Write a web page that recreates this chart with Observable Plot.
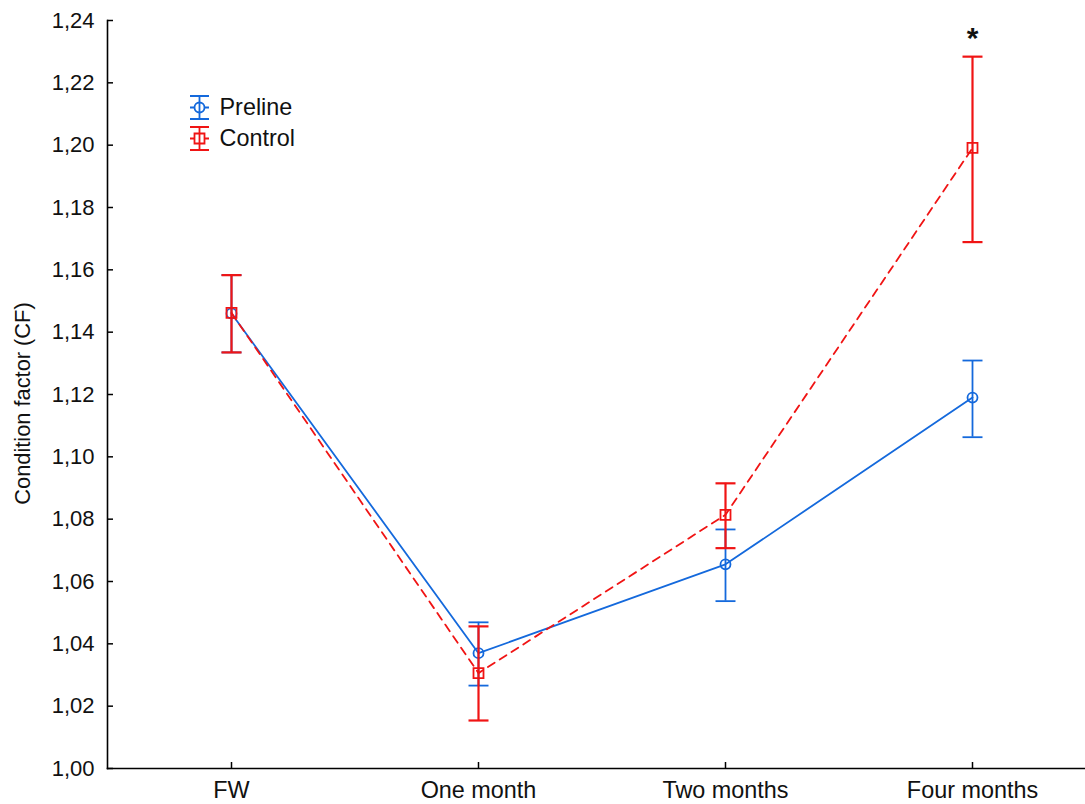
<!DOCTYPE html>
<html>
<head>
<meta charset="utf-8">
<script src="https://cdn.jsdelivr.net/npm/d3@7"></script>
<script src="https://cdn.jsdelivr.net/npm/@observablehq/plot@0.6"></script>
<style>
  html, body { margin: 0; padding: 0; background: #fff; }
  #chart { width: 1085px; height: 804px; overflow: hidden; }
  svg { font-family: "Liberation Sans", Arial, sans-serif; }
</style>
</head>
<body>
<div id="chart"></div>
<script>
const categories = ["FW", "One month", "Two months", "Four months"];
const prelineMean = [1.146, 1.037, 1.0655, 1.119];
const prelineLow  = [1.1335, 1.0266, 1.0537, 1.1063];
const prelineHigh = [1.1583, 1.0469, 1.0767, 1.1309];
const controlMean = [1.1462, 1.0306, 1.0814, 1.1991];
const controlLow  = [1.1335, 1.0154, 1.0707, 1.1689];
const controlHigh = [1.1583, 1.0456, 1.0915, 1.2284];
const yTicks = [1.00, 1.02, 1.04, 1.06, 1.08, 1.10, 1.12, 1.14, 1.16, 1.18, 1.20, 1.22, 1.24];
const seriesNames = ["Preline", "Control"];
const significant = ["Four months"];

const BLUE = "#1469dc";
const RED = "#f01414";

const preline = categories.map((c, i) => ({cat: c, mean: prelineMean[i], low: prelineLow[i], high: prelineHigh[i]}));
const control = categories.map((c, i) => ({cat: c, mean: controlMean[i], low: controlLow[i], high: controlHigh[i]}));

const capSymbol = { draw(ctx) { ctx.moveTo(-10, 0); ctx.lineTo(10, 0); } };
const legendBar = { draw(ctx) {
  ctx.moveTo(0, -11.5); ctx.lineTo(0, 11.5);
  ctx.moveTo(-9.5, -11.5); ctx.lineTo(9.5, -11.5);
  ctx.moveTo(-9.5, 11.5); ctx.lineTo(9.5, 11.5);
  ctx.moveTo(-9.5, 0); ctx.lineTo(-5, 0);
  ctx.moveTo(5, 0); ctx.lineTo(9.5, 0);
} };
const squareSymbol = { draw(ctx) { ctx.rect(-5, -5, 10, 10); } };

function seriesMarks(data, color, dashed, symbol, w) {
  return [
    Plot.line(data, {x: "cat", y: "mean", stroke: color, strokeWidth: 1.8, strokeDasharray: dashed ? "8,6" : null}),
    Plot.ruleX(data, {x: "cat", y1: "low", y2: "high", stroke: color, strokeWidth: w}),
    Plot.dot(data, {x: "cat", y: "low", symbol: capSymbol, r: 5, stroke: color, strokeWidth: w}),
    Plot.dot(data, {x: "cat", y: "high", symbol: capSymbol, r: 5, stroke: color, strokeWidth: w}),
    Plot.dot(data, {x: "cat", y: "mean", symbol: symbol, r: 5, stroke: color, strokeWidth: 1.8})
  ];
}

const legendItems = [
  {name: seriesNames[0], color: BLUE, sym: "circle", dy: 87},
  {name: seriesNames[1], color: RED, sym: squareSymbol, dy: 118}
];

const plot = Plot.plot({
  width: 1085,
  height: 804,
  marginLeft: 107,
  marginRight: -10,
  marginTop: 20,
  marginBottom: 36,
  style: {fontFamily: "'Liberation Sans', Arial, sans-serif", background: "white"},
  x: {type: "point", domain: categories, padding: 0.5},
  y: {domain: [1.0, 1.24]},
  marks: [
    Plot.axisY({ticks: yTicks, tickFormat: d => d.toFixed(2).replace(".", ","), tickSize: 0, tickPadding: 13, fontSize: 22, fill: "#111",
      label: null}),
    Plot.text(["Condition factor (CF)"], {frameAnchor: "left", dx: -84, dy: 9, rotate: -90, fontSize: 21.8, fill: "#111", textAnchor: "middle", lineAnchor: "middle"}),
    Plot.axisY({ticks: yTicks, tickSize: -6, text: null, label: null, strokeWidth: 1.5}),
    Plot.axisX({tickSize: 0, tickPadding: 13, fontSize: 23.4, label: null, fill: "#111"}),
    Plot.axisX({tickSize: -6, text: null, label: null, strokeWidth: 1.5}),
    Plot.frame({anchor: "left", strokeWidth: 1.6}),
    Plot.frame({anchor: "bottom", strokeWidth: 1.6}),
    ...seriesMarks(preline, BLUE, false, "circle", 1.8),
    ...seriesMarks(control, RED, true, squareSymbol, 2.2),
    Plot.text(control.filter(d => significant.includes(d.cat)), {x: "cat", y: "high", text: () => "*", dy: -18, fontSize: 30, fontWeight: "bold", fill: "#111"}),
    // legend
    ...legendItems.flatMap(it => [
      Plot.dot([it], {frameAnchor: "top-left", dx: 92, dy: it.dy, symbol: legendBar, r: 5, stroke: it.color, strokeWidth: 1.8}),
      Plot.dot([it], {frameAnchor: "top-left", dx: 92, dy: it.dy, symbol: it.sym, r: 5, stroke: it.color, strokeWidth: 1.8}),
      Plot.text([it], {frameAnchor: "top-left", dx: 112, dy: it.dy, text: "name", textAnchor: "start", lineAnchor: "middle", fontSize: 23.4, fill: "#111"})
    ])
  ]
});
document.getElementById("chart").appendChild(plot);
</script>
</body>
</html>
